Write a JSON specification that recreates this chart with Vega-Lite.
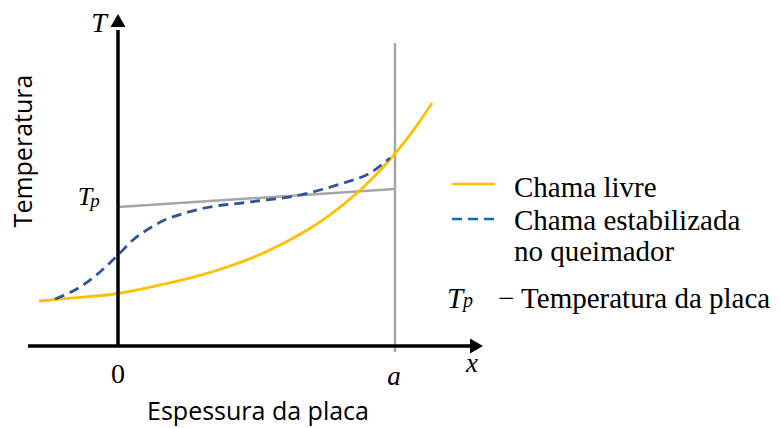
{
  "$schema": "https://vega.github.io/schema/vega-lite/v6.json",
  "width": 780,
  "height": 428,
  "autosize": {"type": "fit", "contains": "padding"},
  "padding": 0,
  "background": "white",
  "config": {"view": {"stroke": null}},
  "datasets": {
    "curves": [
      {"series": "Chama livre", "X": -0.2852, "T": 0.45},
      {"series": "Chama livre", "X": -0.1733, "T": 0.479},
      {"series": "Chama livre", "X": 0.0, "T": 0.525},
      {"series": "Chama livre", "X": 0.1516, "T": 0.61},
      {"series": "Chama livre", "X": 0.296, "T": 0.707},
      {"series": "Chama livre", "X": 0.4043, "T": 0.8},
      {"series": "Chama livre", "X": 0.5343, "T": 0.942},
      {"series": "Chama livre", "X": 0.657, "T": 1.117},
      {"series": "Chama livre", "X": 0.7653, "T": 1.312},
      {"series": "Chama livre", "X": 0.8628, "T": 1.53},
      {"series": "Chama livre", "X": 0.9278, "T": 1.703},
      {"series": "Chama livre", "X": 1.0, "T": 1.923},
      {"series": "Chama livre", "X": 1.0722, "T": 2.179},
      {"series": "Chama livre", "X": 1.1336, "T": 2.43},
      {"series": "Chama estabilizada", "X": -0.2274, "T": 0.47},
      {"series": "Chama estabilizada", "X": -0.1372, "T": 0.59},
      {"series": "Chama estabilizada", "X": -0.065, "T": 0.74},
      {"series": "Chama estabilizada", "X": 0.0, "T": 0.91},
      {"series": "Chama estabilizada", "X": 0.0542, "T": 1.06},
      {"series": "Chama estabilizada", "X": 0.1155, "T": 1.18},
      {"series": "Chama estabilizada", "X": 0.1769, "T": 1.27},
      {"series": "Chama estabilizada", "X": 0.2419, "T": 1.33},
      {"series": "Chama estabilizada", "X": 0.296, "T": 1.37},
      {"series": "Chama estabilizada", "X": 0.4765, "T": 1.44},
      {"series": "Chama estabilizada", "X": 0.657, "T": 1.51},
      {"series": "Chama estabilizada", "X": 0.8014, "T": 1.62},
      {"series": "Chama estabilizada", "X": 0.9097, "T": 1.73},
      {"series": "Chama estabilizada", "X": 0.9819, "T": 1.88}
    ],
    "grayLines": [
      {"name": "x = a", "X": 1.0, "T": -0.06, "X2": 1.0, "T2": 3.03},
      {"name": "Tp", "X": 0.0, "T": 1.39, "X2": 1.0, "T2": 1.57}
    ],
    "axes": [
      {"name": "T axis", "X": 0.0, "T": 0.0, "X2": 0.0, "T2": 3.16},
      {"name": "x axis", "X": -0.3249, "T": 0.0, "X2": 1.2744, "T2": 0.0}
    ],
    "arrowUp": [{"X": 0.0, "T": 3.255}],
    "arrowRight": [{"X": 1.2942, "T": 0.0}],
    "legendYellow": [{"X": 1.2058, "T": 1.62, "X2": 1.361, "T2": 1.62}],
    "legendBlue": [{"X": 1.2058, "T": 1.27, "X2": 1.361, "T2": 1.27}],
    "mathCentered": [
      {"label": "T", "X": -0.0686, "T": 3.22, "size": 28},
      {"label": "T", "X": -0.1191, "T": 1.49, "size": 26},
      {"label": "a", "X": 0.9964, "T": -0.31, "size": 27},
      {"label": "x", "X": 1.278, "T": -0.18, "size": 27}
    ],
    "mathSub": [
      {"label": "p", "X": -0.083, "T": 1.45, "size": 19},
      {"label": "p", "X": 1.2635, "T": 0.45, "size": 20}
    ],
    "zero": [{"label": "0", "X": 0.0, "T": -0.29}],
    "legendText": [
      {"label": "Chama livre", "X": 1.4296, "T": 1.49},
      {"label": "Chama estabilizada", "X": 1.4296, "T": 1.16},
      {"label": "no queimador", "X": 1.4296, "T": 0.85},
      {"label": "− Temperatura da placa", "X": 1.3718, "T": 0.38}
    ],
    "legendTp": [{"label": "T", "X": 1.1877, "T": 0.38}],
    "sansText": [
      {"label": "Espessura da placa", "X": 0.5054, "T": -0.66}
    ],
    "sansTextV": [
      {"label": "Temperatura", "X": -0.3394, "T": 1.95}
    ]
  },
  "encoding": {
    "x": {"field": "X", "type": "quantitative", "scale": {"domain": [-0.426, 2.3899], "nice": false, "zero": false}, "axis": null},
    "y": {"field": "T", "type": "quantitative", "scale": {"domain": [-0.82, 3.46], "nice": false, "zero": false}, "axis": null}
  },
  "layer": [
    {
      "data": {"name": "grayLines"},
      "mark": {"type": "rule", "color": "#A6A6A6", "strokeWidth": 2.5},
      "encoding": {"x2": {"field": "X2"}, "y2": {"field": "T2"}}
    },
    {
      "data": {"name": "curves"},
      "transform": [{"filter": "datum.series === 'Chama livre'"}],
      "mark": {"type": "line", "color": "#FFC000", "strokeWidth": 2.8, "interpolate": "monotone"},
      "encoding": {"order": {"field": "X", "type": "quantitative"}}
    },
    {
      "data": {"name": "curves"},
      "transform": [{"filter": "datum.series === 'Chama estabilizada'"}],
      "mark": {"type": "line", "color": "#2F5597", "strokeWidth": 2.8, "strokeDash": [10, 6], "interpolate": "monotone"},
      "encoding": {"order": {"field": "X", "type": "quantitative"}}
    },
    {
      "data": {"name": "axes"},
      "mark": {"type": "rule", "color": "black", "strokeWidth": 3.5},
      "encoding": {"x2": {"field": "X2"}, "y2": {"field": "T2"}}
    },
    {
      "data": {"name": "arrowUp"},
      "mark": {"type": "point", "shape": "triangle-up", "filled": true, "color": "black", "opacity": 1, "size": 225}
    },
    {
      "data": {"name": "arrowRight"},
      "mark": {"type": "point", "shape": "triangle-right", "filled": true, "color": "black", "opacity": 1, "size": 225}
    },
    {
      "data": {"name": "legendYellow"},
      "mark": {"type": "rule", "color": "#FFC000", "strokeWidth": 2.5},
      "encoding": {"x2": {"field": "X2"}, "y2": {"field": "T2"}}
    },
    {
      "data": {"name": "legendBlue"},
      "mark": {"type": "rule", "color": "#0070C0", "strokeWidth": 2.5, "strokeDash": [10, 6]},
      "encoding": {"x2": {"field": "X2"}, "y2": {"field": "T2"}}
    },
    {
      "data": {"name": "mathCentered"},
      "mark": {"type": "text", "font": "Liberation Serif", "fontStyle": "italic", "align": "center", "baseline": "middle", "color": "black"},
      "encoding": {"text": {"field": "label"}, "size": {"field": "size", "type": "quantitative", "scale": null}}
    },
    {
      "data": {"name": "mathSub"},
      "mark": {"type": "text", "font": "Liberation Serif", "fontStyle": "italic", "align": "center", "baseline": "middle", "color": "black"},
      "encoding": {"text": {"field": "label"}, "size": {"field": "size", "type": "quantitative", "scale": null}}
    },
    {
      "data": {"name": "zero"},
      "mark": {"type": "text", "font": "Liberation Serif", "fontSize": 28, "align": "center", "baseline": "middle", "color": "black"},
      "encoding": {"text": {"field": "label"}}
    },
    {
      "data": {"name": "legendTp"},
      "mark": {"type": "text", "font": "Liberation Serif", "fontStyle": "italic", "fontSize": 29, "align": "left", "baseline": "alphabetic", "color": "black"},
      "encoding": {"text": {"field": "label"}}
    },
    {
      "data": {"name": "legendText"},
      "mark": {"type": "text", "font": "Liberation Serif", "fontSize": 29, "align": "left", "baseline": "alphabetic", "color": "black"},
      "encoding": {"text": {"field": "label"}}
    },
    {
      "data": {"name": "sansText"},
      "mark": {"type": "text", "font": "Open Sans", "fontSize": 25, "align": "center", "baseline": "middle", "color": "black"},
      "encoding": {"text": {"field": "label"}}
    },
    {
      "data": {"name": "sansTextV"},
      "mark": {"type": "text", "font": "Open Sans", "fontSize": 25, "align": "center", "baseline": "middle", "angle": 270, "color": "black"},
      "encoding": {"text": {"field": "label"}}
    }
  ]
}
